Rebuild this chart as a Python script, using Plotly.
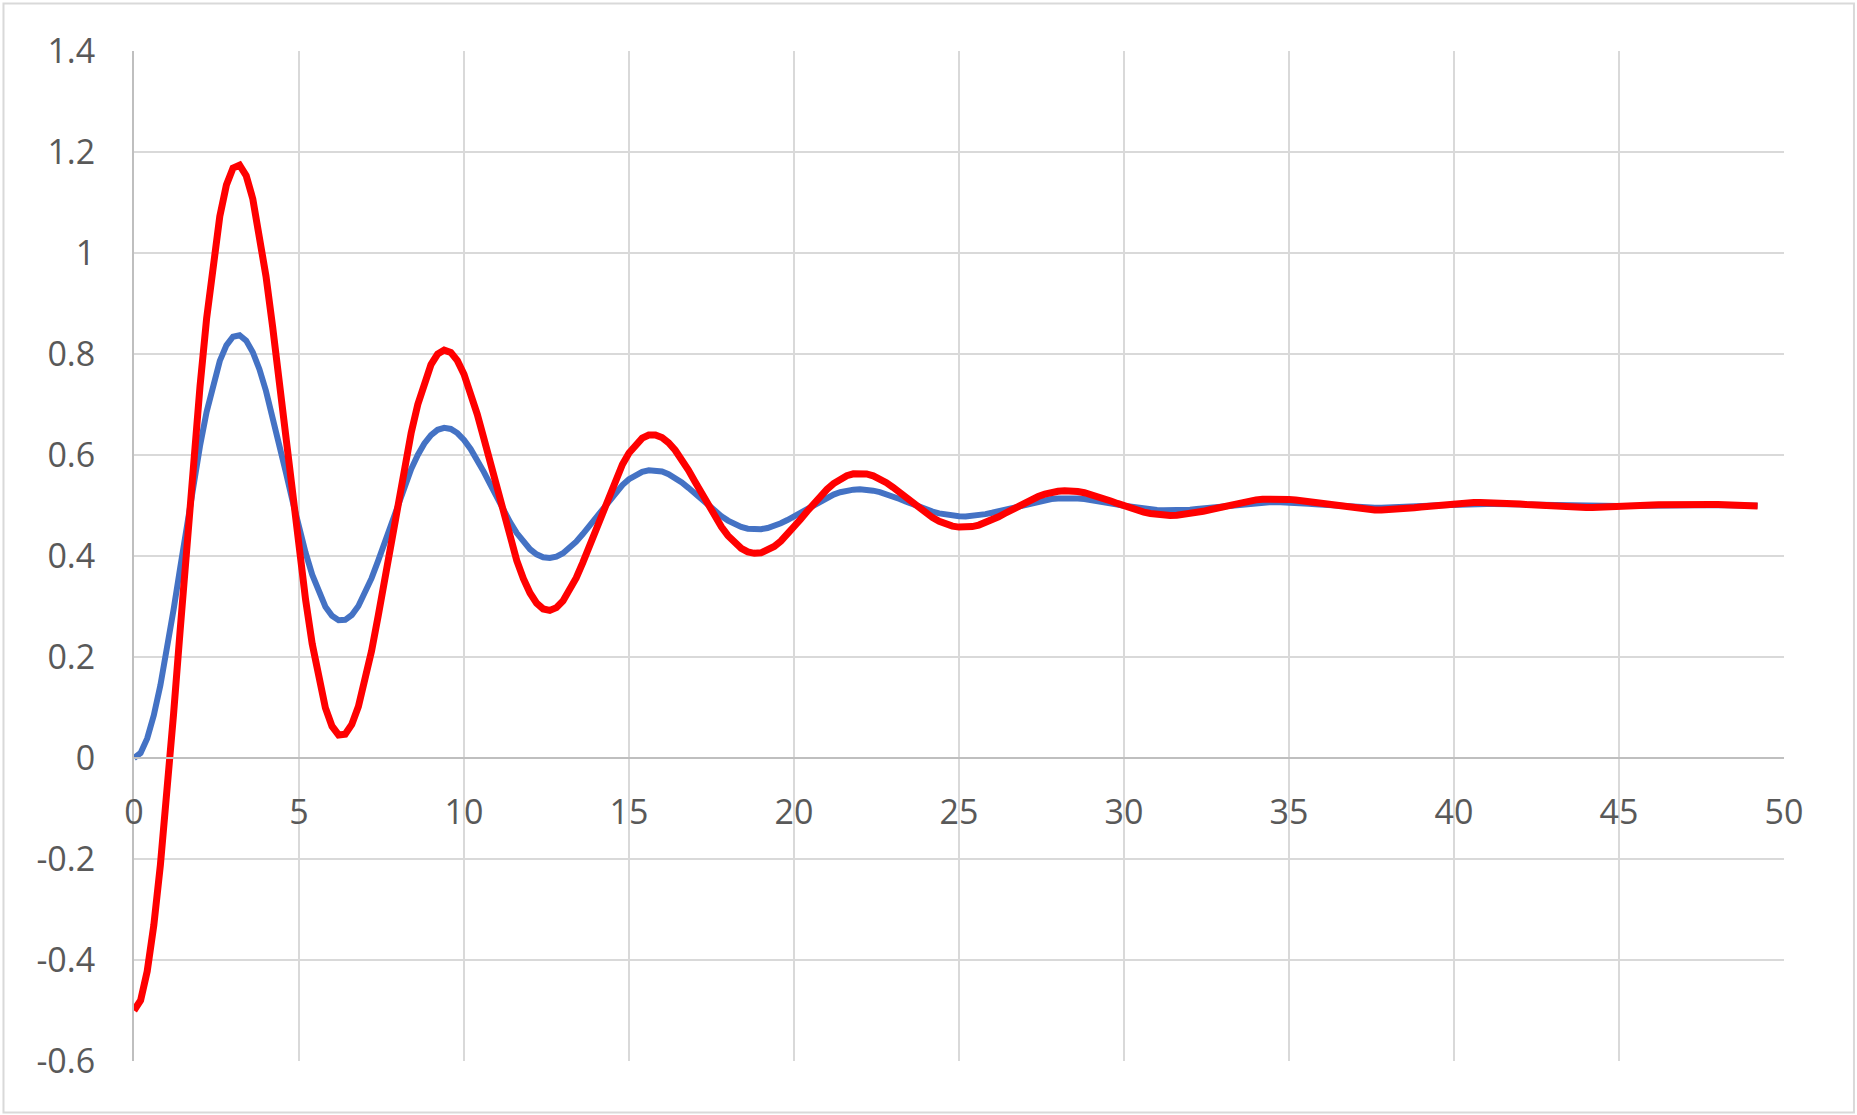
import plotly.graph_objects as go

# x values (time): samples every 0.2 from 0 to 49.2
x_values = [
    0, 0.2, 0.4, 0.6, 0.8, 1, 1.2, 1.4, 1.6, 1.8,
    2, 2.2, 2.4, 2.6, 2.8, 3, 3.2, 3.4, 3.6, 3.8,
    4, 4.2, 4.4, 4.6, 4.8, 5, 5.2, 5.4, 5.6, 5.8,
    6, 6.2, 6.4, 6.6, 6.8, 7, 7.2, 7.4, 7.6, 7.8,
    8, 8.2, 8.4, 8.6, 8.8, 9, 9.2, 9.4, 9.6, 9.8,
    10, 10.2, 10.4, 10.6, 10.8, 11, 11.2, 11.4, 11.6, 11.8,
    12, 12.2, 12.4, 12.6, 12.8, 13, 13.2, 13.4, 13.6, 13.8,
    14, 14.2, 14.4, 14.6, 14.8, 15, 15.2, 15.4, 15.6, 15.8,
    16, 16.2, 16.4, 16.6, 16.8, 17, 17.2, 17.4, 17.6, 17.8,
    18, 18.2, 18.4, 18.6, 18.8, 19, 19.2, 19.4, 19.6, 19.8,
    20, 20.2, 20.4, 20.6, 20.8, 21, 21.2, 21.4, 21.6, 21.8,
    22, 22.2, 22.4, 22.6, 22.8, 23, 23.2, 23.4, 23.6, 23.8,
    24, 24.2, 24.4, 24.6, 24.8, 25, 25.2, 25.4, 25.6, 25.8,
    26, 26.2, 26.4, 26.6, 26.8, 27, 27.2, 27.4, 27.6, 27.8,
    28, 28.2, 28.4, 28.6, 28.8, 29, 29.2, 29.4, 29.6, 29.8,
    30, 30.2, 30.4, 30.6, 30.8, 31, 31.2, 31.4, 31.6, 31.8,
    32, 32.2, 32.4, 32.6, 32.8, 33, 33.2, 33.4, 33.6, 33.8,
    34, 34.2, 34.4, 34.6, 34.8, 35, 35.2, 35.4, 35.6, 35.8,
    36, 36.2, 36.4, 36.6, 36.8, 37, 37.2, 37.4, 37.6, 37.8,
    38, 38.2, 38.4, 38.6, 38.8, 39, 39.2, 39.4, 39.6, 39.8,
    40, 40.2, 40.4, 40.6, 40.8, 41, 41.2, 41.4, 41.6, 41.8,
    42, 42.2, 42.4, 42.6, 42.8, 43, 43.2, 43.4, 43.6, 43.8,
    44, 44.2, 44.4, 44.6, 44.8, 45, 45.2, 45.4, 45.6, 45.8,
    46, 46.2, 46.4, 46.6, 46.8, 47, 47.2, 47.4, 47.6, 47.8,
    48, 48.2, 48.4, 48.6, 48.8, 49, 49.2,
]

# Blue series (starts at 0, settles at 0.5)
blue_values = [
    0.0, 0.0100, 0.0388, 0.0844, 0.1442, 0.2152, 0.2939, 0.3769, 0.4608, 0.5421,
    0.6178, 0.6851, 0.7419, 0.7863, 0.8172, 0.8342, 0.8371, 0.8265, 0.8036, 0.7698,
    0.7269, 0.6772, 0.6230, 0.5665, 0.5102, 0.4562, 0.4066, 0.3630, 0.3270, 0.2996,
    0.2815, 0.2728, 0.2736, 0.2832, 0.3010, 0.3257, 0.3561, 0.3908, 0.4280, 0.4663,
    0.5040, 0.5397, 0.5721, 0.6001, 0.6228, 0.6395, 0.6499, 0.6539, 0.6516, 0.6434,
    0.6299, 0.6120, 0.5906, 0.5666, 0.5411, 0.5153, 0.4901, 0.4665, 0.4454, 0.4275,
    0.4134, 0.4033, 0.3976, 0.3961, 0.3989, 0.4055, 0.4155, 0.4284, 0.4434, 0.4600,
    0.4774, 0.4948, 0.5115, 0.5270, 0.5406, 0.5520, 0.5608, 0.5668, 0.5698, 0.5699,
    0.5673, 0.5621, 0.5547, 0.5456, 0.5350, 0.5236, 0.5118, 0.5002, 0.4891, 0.4789,
    0.4701, 0.4629, 0.4576, 0.4541, 0.4527, 0.4531, 0.4554, 0.4594, 0.4648, 0.4712,
    0.4786, 0.4864, 0.4943, 0.5021, 0.5094, 0.5160, 0.5217, 0.5262, 0.5295, 0.5314,
    0.5320, 0.5313, 0.5294, 0.5265, 0.5226, 0.5180, 0.5130, 0.5076, 0.5023, 0.4971,
    0.4923, 0.4880, 0.4844, 0.4816, 0.4796, 0.4786, 0.4784, 0.4792, 0.4807, 0.4829,
    0.4856, 0.4888, 0.4923, 0.4959, 0.4995, 0.5030, 0.5061, 0.5089, 0.5112, 0.5129,
    0.5140, 0.5146, 0.5145, 0.5138, 0.5127, 0.5111, 0.5091, 0.5069, 0.5045, 0.5020,
    0.4996, 0.4973, 0.4953, 0.4935, 0.4921, 0.4910, 0.4904, 0.4901, 0.4903, 0.4908,
    0.4917, 0.4929, 0.4943, 0.4958, 0.4974, 0.4991, 0.5007, 0.5022, 0.5036, 0.5047,
    0.5056, 0.5062, 0.5066, 0.5067, 0.5065, 0.5060, 0.5054, 0.5045, 0.5036, 0.5025,
    0.5014, 0.5003, 0.4992, 0.4982, 0.4974, 0.4966, 0.4961, 0.4957, 0.4955, 0.4955,
    0.4957, 0.4960, 0.4965, 0.4971, 0.4978, 0.4985, 0.4992, 0.5000, 0.5007, 0.5014,
    0.5019, 0.5024, 0.5027, 0.5030, 0.5030, 0.5030, 0.5029, 0.5026, 0.5023, 0.5019,
    0.5014, 0.5009, 0.5004, 0.4999, 0.4994, 0.4990, 0.4986, 0.4983, 0.4981, 0.4980,
    0.4979, 0.4980, 0.4981, 0.4983, 0.4985, 0.4988, 0.4992, 0.4995, 0.4998, 0.5002,
    0.5005, 0.5008, 0.5010, 0.5012, 0.5013, 0.5014, 0.5014, 0.5013, 0.5013, 0.5011,
    0.5009, 0.5007, 0.5005, 0.5003, 0.5000, 0.4998, 0.4996,
]

# Red series (starts at -0.5, settles at 0.5)
red_values = [
    -0.5000, -0.4801, -0.4225, -0.3312, -0.2116, -0.0697, 0.0878, 0.2539, 0.4216, 0.5842,
    0.7356, 0.8702, 0.9837, 1.0726, 1.1345, 1.1683, 1.1741, 1.1530, 1.1071, 1.0395,
    0.9538, 0.8545, 0.7460, 0.6330, 0.5204, 0.4124, 0.3131, 0.2261, 0.1541, 0.0993,
    0.0630, 0.0457, 0.0472, 0.0665, 0.1020, 0.1515, 0.2123, 0.2815, 0.3560, 0.4325,
    0.5080, 0.5794, 0.6443, 0.7002, 0.7456, 0.7790, 0.7998, 0.8077, 0.8031, 0.7868,
    0.7599, 0.7240, 0.6811, 0.6331, 0.5822, 0.5305, 0.4802, 0.4331, 0.3909, 0.3551,
    0.3267, 0.3066, 0.2951, 0.2923, 0.2978, 0.3110, 0.3310, 0.3567, 0.3869, 0.4200,
    0.4547, 0.4895, 0.5230, 0.5540, 0.5813, 0.6041, 0.6216, 0.6335, 0.6396, 0.6398,
    0.6345, 0.6242, 0.6094, 0.5911, 0.5701, 0.5472, 0.5237, 0.5004, 0.4781, 0.4579,
    0.4403, 0.4259, 0.4151, 0.4082, 0.4053, 0.4063, 0.4109, 0.4188, 0.4295, 0.4425,
    0.4571, 0.4727, 0.4886, 0.5042, 0.5189, 0.5321, 0.5434, 0.5524, 0.5589, 0.5628,
    0.5640, 0.5626, 0.5588, 0.5529, 0.5452, 0.5360, 0.5259, 0.5153, 0.5045, 0.4942,
    0.4845, 0.4759, 0.4687, 0.4631, 0.4592, 0.4572, 0.4569, 0.4583, 0.4613, 0.4657,
    0.4712, 0.4776, 0.4846, 0.4918, 0.4991, 0.5060, 0.5123, 0.5178, 0.5224, 0.5259,
    0.5281, 0.5291, 0.5290, 0.5277, 0.5253, 0.5221, 0.5182, 0.5137, 0.5090, 0.5041,
    0.4992, 0.4947, 0.4906, 0.4870, 0.4841, 0.4820, 0.4807, 0.4803, 0.4806, 0.4817,
    0.4834, 0.4857, 0.4885, 0.4916, 0.4949, 0.4982, 0.5014, 0.5044, 0.5071, 0.5094,
    0.5112, 0.5125, 0.5132, 0.5133, 0.5130, 0.5121, 0.5108, 0.5091, 0.5072, 0.5050,
    0.5028, 0.5006, 0.4985, 0.4965, 0.4947, 0.4933, 0.4922, 0.4914, 0.4910, 0.4910,
    0.4914, 0.4920, 0.4930, 0.4942, 0.4955, 0.4970, 0.4985, 0.5000, 0.5014, 0.5027,
    0.5039, 0.5048, 0.5055, 0.5059, 0.5061, 0.5060, 0.5057, 0.5052, 0.5046, 0.5037,
    0.5028, 0.5018, 0.5008, 0.4998, 0.4988, 0.4980, 0.4973, 0.4967, 0.4962, 0.4960,
    0.4959, 0.4960, 0.4962, 0.4966, 0.4971, 0.4977, 0.4983, 0.4990, 0.4997, 0.5004,
    0.5010, 0.5015, 0.5020, 0.5024, 0.5026, 0.5027, 0.5028, 0.5027, 0.5025, 0.5022,
    0.5019, 0.5015, 0.5010, 0.5006, 0.5001, 0.4996, 0.4992,
]

x_tick_vals = [0, 5, 10, 15, 20, 25, 30, 35, 40, 45, 50]
x_tick_text = ["0", "5", "10", "15", "20", "25", "30", "35", "40", "45", "50"]
y_tick_vals = [1.4, 1.2, 1.0, 0.8, 0.6, 0.4, 0.2, 0.0, -0.2, -0.4, -0.6]
y_tick_text = ["1.4", "1.2", "1", "0.8", "0.6", "0.4", "0.2", "0", "-0.2", "-0.4", "-0.6"]

FONT = "Open Sans, Noto Sans, DejaVu Sans, sans-serif"
GRID = "#d9d9d9"
AXIS = "#bfbfbf"
TEXT = "#595959"

fig = go.Figure()
fig.add_trace(go.Scatter(x=x_values, y=blue_values, mode="lines",
                         line=dict(color="#4472C4", width=6), showlegend=False))
fig.add_trace(go.Scatter(x=x_values, y=red_values, mode="lines",
                         line=dict(color="#FF0000", width=7), showlegend=False))

fig.update_layout(
    width=1857, height=1115,
    margin=dict(l=134, r=73, t=51, b=54),
    paper_bgcolor="white", plot_bgcolor="white",
    font=dict(family=FONT, size=34, color=TEXT),
    showlegend=False,
    xaxis=dict(
        range=[0, 50], tickvals=x_tick_vals, ticktext=x_tick_text,
        showgrid=True, gridcolor=GRID, gridwidth=2,
        zeroline=False, showline=True, linecolor=AXIS, linewidth=2,
        anchor="free", position=0.3,
        ticks="", ticklabelstandoff=24,
        tickfont=dict(family=FONT, size=34, color=TEXT),
    ),
    yaxis=dict(
        range=[-0.6, 1.4], tickvals=y_tick_vals, ticktext=y_tick_text,
        showgrid=True, gridcolor=GRID, gridwidth=2,
        zeroline=False, showline=True, linecolor=AXIS, linewidth=2,
        ticks="", ticklabelstandoff=30,
        tickfont=dict(family=FONT, size=34, color=TEXT),
        domain=[0, 1],
    ),
    shapes=[dict(type="rect", xref="paper", yref="paper",
                 x0=-0.0791, x1=1.0424, y0=-0.0510, y1=1.0470,
                 line=dict(color=GRID, width=2), fillcolor="rgba(0,0,0,0)",
                 layer="below")],
)

fig.write_html("out.html", config={"displayModeBar": False},
               post_script="document.body.style.margin='0';document.body.style.overflow='hidden';")
